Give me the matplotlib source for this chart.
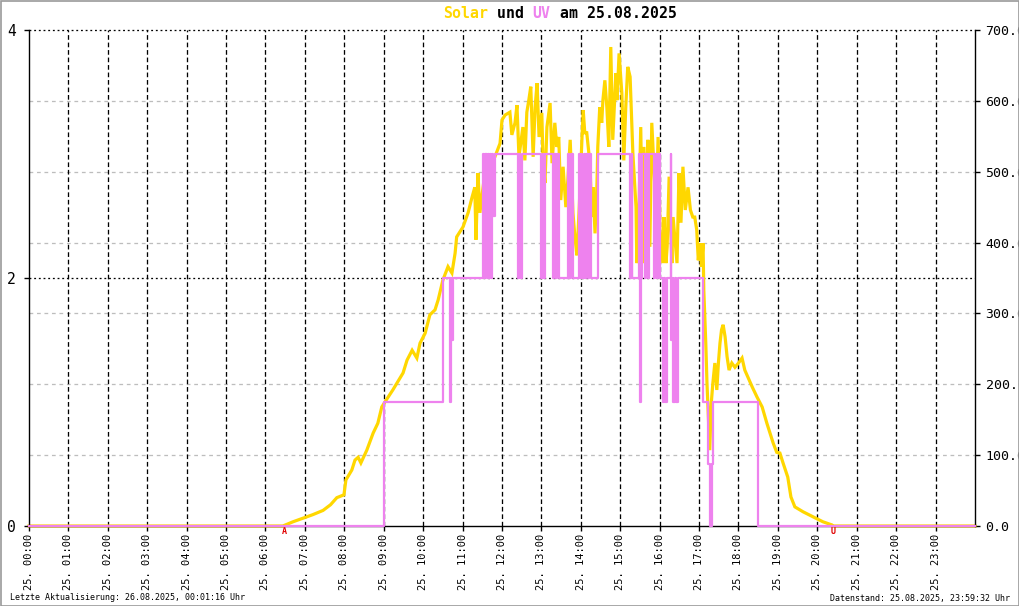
import matplotlib
matplotlib.use("Agg")
import matplotlib.pyplot as plt
from matplotlib.transforms import blended_transform_factory
from matplotlib.patches import Rectangle

# ---------------- data ----------------
solar_hours = [0.0, 6.44, 6.70, 6.95, 7.20, 7.46, 7.65, 7.81, 7.99, 8.04, 8.19, 8.27, 8.35, 8.42,
               8.57, 8.73, 8.85, 8.95, 9.03, 9.23, 9.49, 9.59, 9.72, 9.84, 9.92, 10.05, 10.17,
               10.30, 10.38, 10.50, 10.63, 10.73, 10.81, 10.85, 11.01, 11.14, 11.24, 11.31, 11.34,
               11.39, 11.44, 11.51, 11.62, 11.69, 11.82, 11.95, 12.00, 12.08, 12.20, 12.25, 12.33,
               12.38, 12.43, 12.53, 12.58, 12.63, 12.68, 12.73, 12.79, 12.84, 12.89, 12.94, 13.01,
               13.04, 13.09, 13.14, 13.22, 13.27, 13.34, 13.39, 13.44, 13.49, 13.55, 13.62, 13.67,
               13.73, 13.80, 13.85, 13.90, 13.96, 14.03, 14.06, 14.10, 14.15, 14.23, 14.28, 14.31,
               14.36, 14.41, 14.43, 14.48, 14.53, 14.56, 14.61, 14.66, 14.71, 14.76, 14.81, 14.89,
               14.92, 14.97, 15.04, 15.09, 15.14, 15.19, 15.25, 15.30, 15.32, 15.40, 15.42, 15.47,
               15.52, 15.57, 15.60, 15.68, 15.70, 15.75, 15.80, 15.85, 15.91, 15.96, 16.01, 16.08,
               16.11, 16.16, 16.19, 16.24, 16.31, 16.34, 16.39, 16.44, 16.49, 16.54, 16.59, 16.65,
               16.72, 16.78, 16.84, 16.89, 16.94, 16.98, 17.02, 17.06, 17.10, 17.12, 17.17, 17.20,
               17.22, 17.27, 17.31, 17.35, 17.40, 17.45, 17.49, 17.53, 17.57, 17.61, 17.66, 17.71,
               17.76, 17.83, 17.91, 18.00, 18.09, 18.16, 18.24, 18.35, 18.47, 18.60, 18.72, 18.88,
               18.97, 19.05, 19.13, 19.25, 19.33, 19.43, 19.64, 19.89, 20.14, 20.37, 20.40, 24.0]
solar_watts = [0, 0, 6, 11, 16, 22, 30, 40, 44, 65, 79, 93, 97, 89,
               107, 131, 145, 168, 175, 192, 216, 234, 248, 237, 258, 272, 298,
               305, 319, 347, 366, 357, 385, 408, 422, 442, 464, 478, 404,
               498, 442, 474, 521, 516, 521, 540, 573, 580, 584, 552, 569,
               594, 521, 563, 516, 584, 601, 620, 521, 591, 625, 549, 583,
               516, 484, 563, 597, 512, 569, 535, 549, 460, 507, 450, 488,
               545, 442, 408, 382, 450, 549, 587, 555, 555, 512, 436, 478,
               413, 484, 535, 591, 569, 601, 629, 591, 535, 676, 545, 639,
               601, 667, 611, 516, 591, 648, 634, 559, 526, 450, 371, 436,
               563, 371, 535, 436, 545, 394, 569, 512, 442, 549, 418, 371,
               436, 371, 394, 493, 371, 436, 404, 371, 498, 428, 507, 446,
               478, 446, 436, 436, 418, 375, 399, 366, 399, 333, 258, 202,
               174, 107, 174, 202, 230, 192, 230, 258, 277, 284, 267, 239,
               220, 230, 224, 230, 237, 220, 210, 196, 182, 168, 145, 117,
               104, 103, 89, 69, 41, 27, 20, 13, 6, 1.5, 0, 0]

uv_hours = [0.0, 9.00, 10.50, 10.68, 10.70, 10.72, 10.75, 11.52, 11.55, 11.58, 11.61, 11.64,
            11.67, 11.70, 11.72, 11.75, 11.78, 11.82, 12.40, 12.43, 12.46, 12.50, 12.99, 13.03,
            13.06, 13.10, 13.29, 13.33, 13.36, 13.40, 13.44, 13.67, 13.70, 13.74, 13.79, 13.95,
            13.98, 14.01, 14.04, 14.07, 14.10, 14.14, 14.18, 14.21, 14.25, 14.43, 15.25, 15.29,
            15.31, 15.48, 15.50, 15.53, 15.56, 15.62, 15.66, 15.71, 15.72, 15.85, 15.88, 15.94,
            15.97, 16.01, 16.08, 16.11, 16.13, 16.18, 16.28, 16.30, 16.33, 16.35, 16.38, 16.41,
            16.46, 17.10, 17.22, 17.27, 17.33, 17.36, 18.49, 24.0]
uv_values = [0, 1, 2, 1, 2, 1.5, 2, 3, 2, 3, 2, 3,
             2, 3, 2, 3, 2.5, 3, 2, 3, 2, 3, 2, 3,
             2, 3, 2, 3, 2, 3, 2, 3, 2, 3, 2, 3,
             2, 3, 2, 3, 2, 3, 2, 3, 2, 3, 2, 3,
             2, 3, 1, 2, 3, 2, 3, 2, 3, 2, 3, 2,
             3, 2, 1, 2, 1, 2, 3, 1.5, 2, 1, 2, 1,
             2, 1, 0.5, 0, 0.5, 1, 0, 0]

hour_ticks = list(range(24))
hour_labels = ["25. %02d:00" % h for h in hour_ticks]
solar_ticks = [0, 100, 200, 300, 400, 500, 600, 700]
uv_ticks = [0, 2, 4]
sunrise_hour = 6.47
sunset_hour = 20.39

# ---------------- figure ----------------
W, H = 1020, 606
fig = plt.figure(figsize=(W / 100, H / 100), dpi=100)
fig.patch.set_facecolor("white")
fig.add_artist(Rectangle((0.5 / W, 0.5 / H), 1 - 1.0 / W, 1 - 1.0 / H, transform=fig.transFigure,
                         fill=False, edgecolor="#9a9a9a", linewidth=1.2))

rect = [29 / W, 80 / H, 946 / W, 496 / H]
ax_s = fig.add_axes(rect)
ax_u = fig.add_axes(rect, sharex=ax_s)
ax_u.patch.set_visible(False)

mono = "DejaVu Sans Mono"
PX = 0.72  # points per pixel

ax_s.set_xlim(0, 24)
ax_s.set_ylim(0, 700)
ax_u.set_ylim(0, 4)

# spines
ax_s.spines["top"].set_visible(False)
for sp in ax_u.spines.values():
    sp.set_visible(False)
for sp in ["left", "right", "bottom"]:
    ax_s.spines[sp].set_linewidth(1.0)
    ax_s.spines[sp].set_color("black")

# grid lines (drawn in the bottom axes)
for h in range(1, 24):
    ax_s.axvline(h, color="black", linewidth=PX * 1.3, linestyle=(0, (5 * PX, 3 * PX)), zorder=0.5)
for v in solar_ticks[1:-1]:
    ax_s.axhline(v, color="#bdbdbd", linewidth=PX * 1.3, linestyle=(0, (4 * PX, 4 * PX)), zorder=0.4)
uv_trans = blended_transform_factory(ax_s.transAxes, ax_u.transData)
for v in uv_ticks[1:]:
    ax_s.plot([0, 1], [v, v], transform=uv_trans, color="black", linewidth=PX * 1.3,
              linestyle=(0, (2 * PX, 3 * PX)), zorder=0.6, clip_on=False)

# data
ax_s.plot(solar_hours, solar_watts, color="#FFD700", linewidth=2.3, zorder=2,
          solid_joinstyle="miter", clip_on=False)
ax_u.step(uv_hours, uv_values, where="post", color="#EE82EE", linewidth=1.6, zorder=3,
          clip_on=False)

# ticks
ax_s.set_xticks(hour_ticks)
ax_s.set_xticklabels(hour_labels, rotation=90, fontsize=7.5, family=mono)
ax_s.tick_params(axis="x", direction="out", length=5 * PX, width=1, pad=2)
ax_s.yaxis.tick_right()
ax_s.set_yticks(solar_ticks)
ax_s.set_yticklabels(["%.1f" % v for v in solar_ticks], fontsize=9.5, family=mono)
ax_s.tick_params(axis="y", direction="out", length=5 * PX, width=1, pad=4)

ax_u.yaxis.tick_left()
ax_u.set_yticks(uv_ticks)
ax_u.set_yticklabels([str(v) for v in uv_ticks], fontsize=10.5, family=mono)
ax_u.tick_params(axis="y", direction="out", length=5 * PX, width=1, pad=6)
ax_u.tick_params(axis="x", bottom=False, labelbottom=False)

# sunrise / sunset markers
mk_trans = blended_transform_factory(ax_s.transData, ax_s.transAxes)
ax_s.text(sunrise_hour, -0.003, "A", transform=mk_trans, color="#e00000", fontsize=6,
          family=mono, ha="center", va="top", fontweight="bold")
ax_s.text(sunset_hour, -0.003, "U", transform=mk_trans, color="#e00000", fontsize=6,
          family=mono, ha="center", va="top", fontweight="bold")

# title (coloured words)
title_parts = [("Solar", "#FFD700"), (" und ", "black"), ("UV", "#EE82EE"), (" am 25.08.2025", "black")]
cw = 8.96  # px per char
x0 = 443
ty = 1 - 13 / H
for txt, col in title_parts:
    fig.text(x0 / W, ty, txt, color=col, fontsize=10.7, family=mono, ha="left", va="center",
             fontweight="bold")
    x0 += cw * len(txt)

# footer
fig.text(10 / W, 1 - 598 / H, "Letzte Aktualisierung: 26.08.2025, 00:01:16 Uhr",
         fontsize=6, family=mono, ha="left", va="center")
fig.text(1010 / W, 1 - 598 / H, "Datenstand: 25.08.2025, 23:59:32 Uhr",
         fontsize=6, family=mono, ha="right", va="center")

fig.savefig("out.png", dpi=100)
